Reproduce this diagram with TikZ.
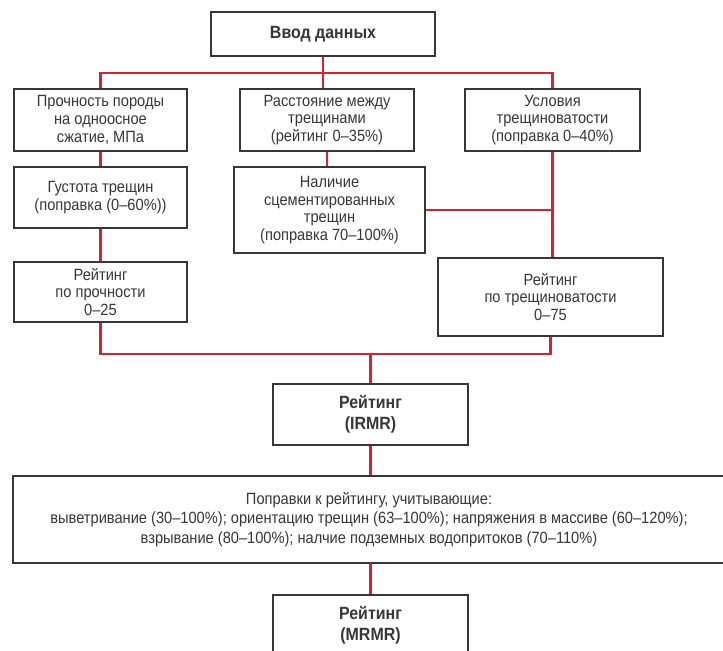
\documentclass[tikz,border=0pt]{standalone}
\usepackage{fontspec}
\setmainfont{Liberation Sans}[FakeStretch=0.9]
\definecolor{linered}{RGB}{218,32,52}
\definecolor{boxc}{RGB}{55,55,55}
\definecolor{txtc}{RGB}{55,55,55}
\begin{document}
\begin{tikzpicture}[x=0.75pt,y=-0.75pt,
  box/.style={draw=boxc,line width=1.1pt,fill=white,align=center,inner sep=0pt,
    text=txtc,font=\fontsize{12.2}{13.2}\selectfont},
  boldbox/.style={box,font=\fontsize{13.3}{15.75}\selectfont\bfseries},
  wire/.style={draw=linered,line width=1.6pt}]
\useasboundingbox (0,0) rectangle (723,650);
% boxes
\node[boldbox,minimum width={224*0.75pt},minimum height={44*0.75pt}] (top) at (323,34) {Ввод данных};
\node[box,minimum width={173*0.75pt},minimum height={62*0.75pt}] (pr) at (100.5,120) {Прочность породы\\на одноосное\\сжатие, МПа};
\node[box,minimum width={174*0.75pt},minimum height={62*0.75pt}] (ra) at (327,120) {Расстояние между\\трещинами\\(рейтинг 0–35\%)};
\node[box,minimum width={175*0.75pt},minimum height={62*0.75pt}] (us) at (552.5,120) {Условия\\трещиноватости\\(поправка 0–40\%)};
\node[box,minimum width={173*0.75pt},minimum height={61*0.75pt}] (gu) at (100.5,197.5) {Густота трещин\\(поправка (0–60\%))};
\node[box,minimum width={191*0.75pt},minimum height={86*0.75pt}] (na) at (329.5,210) {Наличие\\сцементированных\\трещин\\(поправка 70–100\%)};
\node[box,minimum width={173*0.75pt},minimum height={60*0.75pt}] (rp) at (100.5,292) {Рейтинг\\по прочности\\0–25};
\node[box,minimum width={225*0.75pt},minimum height={78*0.75pt}] (rt) at (550.5,297) {Рейтинг\\по трещиноватости\\0–75};
\node[boldbox,minimum width={195*0.75pt},minimum height={61*0.75pt}] (irmr) at (370.5,414.5) {Рейтинг\\(IRMR)};
\node[box,font=\fontsize{12.2}{14.5}\selectfont,minimum width={712*0.75pt},minimum height={87*0.75pt}] (mod) at (369,519.5) {Поправки к рейтингу, учитывающие:\\выветривание (30–100\%); ориентацию трещин (63–100\%); напряжения в массиве (60–120\%);\\взрывание (80–100\%); налчие подземных водопритоков (70–110\%)};
\node[boldbox,minimum width={195*0.75pt},minimum height={61*0.75pt}] (mrmr) at (370.5,625.5) {Рейтинг\\(MRMR)};
% connectors
\coordinate (bus1) at (323,73);
\coordinate (bus2) at (370.5,354);
\draw[wire] (top.south) -- (top.south |- ra.north);
\draw[wire] (pr.north) |- (bus1) -| (us.north);
\draw[wire] (pr.south) -- (gu.north);
\draw[wire] (gu.south) -- (rp.north);
\draw[wire] (ra.south) -- (ra.south |- na.north);
\draw[wire] (us.south) -- (us.south |- rt.north);
\draw[wire] (na.east) -- (na.east -| us.south);
\draw[wire] (rp.south) |- (bus2) -| (rt.south);
\draw[wire] (bus2) -- (irmr.north);
\draw[wire] (irmr.south) -- (irmr.south |- mod.north);
\draw[wire] (mod.south) -- (mod.south -| mrmr.north) -- (mrmr.north);
\end{tikzpicture}
\end{document}
